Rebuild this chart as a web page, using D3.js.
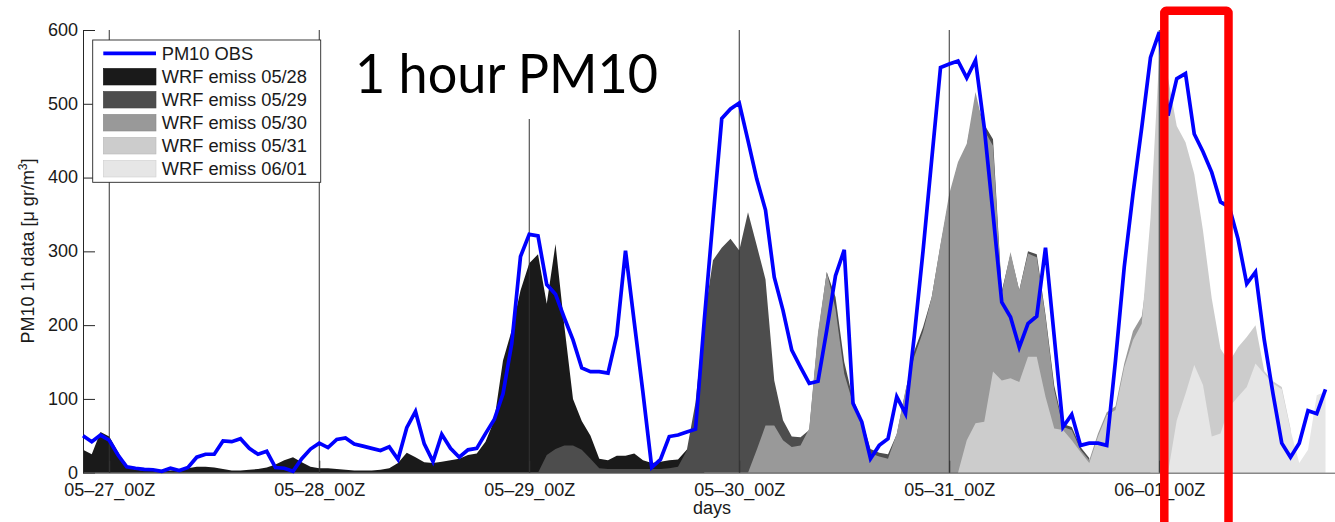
<!DOCTYPE html>
<html>
<head>
<meta charset="utf-8">
<script src="https://cdn.jsdelivr.net/npm/d3@7"></script>
<style>
  html, body { margin: 0; padding: 0; background: #fff; }
  svg { display: block; }
</style>
</head>
<body>
<svg id="chart" width="1335" height="522"></svg>
<script>
// hours counted from 05-27_00Z, one value per hour
const obsStart = -3;
const obs = [
  50, 42, 51, 44, 24, 8, 6, 4.5, 4, 2, 6, 3, 7, 21, 25, 25, 43, 42, 46, 33,
  25, 29, 7, 6, 2, 19, 32, 40, 34, 45, 47, 39, 36, 33, 30, 35, 18, 61, 83, 39,
  15, 52, 33, 21, 31, 33, 53, 72, 107, 175, 293, 323, 321, 255, 242, 210, 180, 142, 137, 137,
  135, 186, 301, 204, 108, 7, 18, 49, 51, 55, 59, 206, 344, 480, 493, 501, 450, 398, 356, 265,
  220, 166, 143, 121, 124, 193, 267, 302, 94, 69, 19, 37, 46, 103, 80, 185, 300, 425, 549, 554,
  558, 535, 559, 468, 351, 231, 211, 170, 202, 212, 305, 184, 62, 79, 37, 40, 40, 37, 152, 279,
  378, 468, 563, 597, 484, 534, 541, 459, 435, 407, 367, 360, 317, 256, 272, 180, 107, 40, 21, 40,
  84, 80, 113
];

const run0528Start = -3;
const run0528 = [
  31, 25, 55, 49, 28, 9, 4, 3, 3, 2, 3, 4, 6, 8, 8, 7, 5, 3, 3, 4,
  5, 7, 11, 17, 21, 14, 8, 6, 6, 5, 4, 3, 3, 3, 4, 6, 13, 27, 21, 14,
  13, 15, 17, 19, 24, 26, 42, 71, 152, 193, 247, 284, 296, 229, 310, 200, 100, 70, 50, 19,
  17, 23, 23, 26, 17, 13, 15, 17, 18, 31, 40, 45
];

const run0529Start = 49;
const run0529 = [
  0, 24, 32, 37, 37, 31, 19, 6, 5, 5, 5, 5, 5, 5, 5, 6, 8, 30, 95, 210,
  288, 305, 317, 301, 353, 308, 262, 125, 71, 49, 48, 58, 186, 272, 238, 150, 100, 72, 32, 27,
  25, 52, 110, 165, 197, 238, 308, 372, 418, 443, 505, 472, 452, 246, 296, 247, 300, 296, 214, 118,
  66, 62, 35, 20
];

const run0530Start = 73;
const run0530 = [
  0, 31, 64, 64, 44, 35, 37, 60, 190, 272, 222, 134, 94, 67, 26, 22, 19, 53, 112, 157,
  191, 238, 310, 378, 421, 446, 516, 464, 443, 243, 299, 247, 297, 292, 211, 112, 62, 58, 31, 17,
  53, 82, 90, 148, 192, 212, 300
];

const run0531Start = 97;
const run0531 = [
  0, 44, 67, 69, 137, 125, 128, 123, 157, 157, 103, 60, 58, 44, 28, 13, 49, 78, 85, 143,
  180, 202, 345, 565, 535, 470, 448, 405, 328, 236, 168, 150, 170, 184, 200, 138, 124, 116, 60
];

const run0601Start = 121;
const run0601 = [
  0, 71, 107, 146, 119, 49, 53, 89, 103, 116, 148, 134, 121, 113, 58, 13, 31, 105, 110
];

const dayTicks = [0, 24, 48, 72, 96, 120];
const dayLabels = ['05–27_00Z', '05–28_00Z', '05–29_00Z', '05–30_00Z', '05–31_00Z', '06–01_00Z'];
const yTicks = [0, 100, 200, 300, 400, 500, 600];

const runs = [
  { label: 'WRF emiss 05/28', start: run0528Start, values: run0528, color: '#1a1a1a' },
  { label: 'WRF emiss 05/29', start: run0529Start, values: run0529, color: '#4d4d4d' },
  { label: 'WRF emiss 05/30', start: run0530Start, values: run0530, color: '#999999' },
  { label: 'WRF emiss 05/31', start: run0531Start, values: run0531, color: '#cccccc' },
  { label: 'WRF emiss 06/01', start: run0601Start, values: run0601, color: '#e6e6e6' }
];

const FONT = '"Liberation Sans", Arial, Helvetica, sans-serif';

const x = d3.scaleLinear().domain([-3, 141]).range([83, 83 + 144 * 8.75]);
const y = d3.scaleLinear().domain([0, 600]).range([472.7, 30]);

const svg = d3.select('#chart');

const toPts = (start, values) => values.map((v, i) => ({ h: start + i, v }));

// Model runs, later runs drawn on top
const area = d3.area().x(d => x(d.h)).y0(y(0)).y1(d => y(d.v));
runs.forEach(r => {
  svg.append('path')
    .datum(toPts(r.start, r.values))
    .attr('d', area)
    .attr('fill', r.color)
    .attr('stroke', 'none');
});

// Day marker lines
svg.append('g')
  .selectAll('line')
  .data(dayTicks)
  .join('line')
  .attr('x1', d => x(d)).attr('x2', d => x(d))
  .attr('y1', y(600)).attr('y2', y(0))
  .attr('stroke', '#333').attr('stroke-width', 1);

// Axes
svg.append('g')
  .attr('transform', `translate(${x(-3)},0)`)
  .call(d3.axisLeft(y).tickValues(yTicks).tickSize(-12).tickSizeOuter(0).tickPadding(5))
  .call(ax => ax.select('.domain').attr('stroke', '#262626'))
  .call(ax => ax.selectAll('line').attr('stroke', '#262626'))
  .call(ax => ax.selectAll('text').attr('fill', '#1a1a1a').attr('font-size', 18).attr('font-family', FONT)
    .attr('dy', '0.3em'));

svg.append('g')
  .attr('transform', `translate(0,${y(0)})`)
  .call(d3.axisBottom(x).tickValues(dayTicks).tickFormat((d, i) => dayLabels[i])
    .tickSize(-12).tickSizeOuter(0).tickPadding(10.5))
  .call(ax => ax.select('.domain').attr('stroke', '#555'))
  .call(ax => ax.selectAll('line').attr('stroke', '#333'))
  .call(ax => ax.selectAll('text').attr('fill', '#1a1a1a').attr('font-size', 18).attr('font-family', FONT));

// Axis labels
svg.append('text')
  .attr('x', 712).attr('y', 514)
  .attr('text-anchor', 'middle').attr('font-size', 18).attr('font-family', FONT).attr('fill', '#1a1a1a')
  .text('days');

const yl = svg.append('text')
  .attr('transform', 'rotate(-90)')
  .attr('x', -251).attr('y', 33.5)
  .attr('text-anchor', 'middle').attr('font-size', 18).attr('font-family', FONT).attr('fill', '#1a1a1a');
yl.append('tspan').text('PM10 1h data [μ gr/m');
yl.append('tspan').attr('font-size', 12).attr('dy', -7).text('3');
yl.append('tspan').attr('dy', 7).text(']');

// Observations
const line = d3.line().x(d => x(d.h)).y(d => y(d.v));
svg.append('path')
  .datum(toPts(obsStart, obs))
  .attr('d', line)
  .attr('fill', 'none')
  .attr('stroke', '#0000ff')
  .attr('stroke-width', 3.7)
  .attr('stroke-linejoin', 'miter');

// Title on a white box
svg.append('rect')
  .attr('x', 345).attr('y', 20).attr('width', 325).attr('height', 99)
  .attr('fill', '#fff');
svg.append('text')
  .attr('x', 355).attr('y', 92.7)
  .attr('font-size', 54).attr('font-family', 'Lato, "Open Sans", sans-serif').attr('fill', '#000')
  .attr('textLength', 303).attr('lengthAdjust', 'spacingAndGlyphs')
  .text('1 hour PM10');

// Legend
const lg = svg.append('g');
lg.append('rect')
  .attr('x', 92.7).attr('y', 40).attr('width', 228).attr('height', 142.3)
  .attr('fill', '#fff').attr('stroke', '#262626').attr('stroke-width', 0.9);
lg.append('line')
  .attr('x1', 103.3).attr('x2', 156).attr('y1', 53.3).attr('y2', 53.3)
  .attr('stroke', '#0000ff').attr('stroke-width', 3.7);
lg.append('text')
  .attr('x', 161.7).attr('y', 53.3).attr('dy', '0.36em')
  .attr('font-size', 18.3).attr('font-family', FONT).attr('fill', '#1a1a1a')
  .text('PM10 OBS');
runs.forEach((r, i) => {
  const cy = 76.7 + i * 23;
  lg.append('rect')
    .attr('x', 103.3).attr('y', cy - 8.3).attr('width', 52.7).attr('height', 16.6)
    .attr('fill', r.color).attr('stroke', d3.color(r.color).darker(0.3)).attr('stroke-width', 0.6);
  lg.append('text')
    .attr('x', 161.7).attr('y', cy).attr('dy', '0.36em')
    .attr('font-size', 18.3).attr('font-family', FONT).attr('fill', '#1a1a1a')
    .text(r.label);
});

// Red highlight frame
svg.append('rect')
  .attr('x', 1164.3).attr('y', 10.8).attr('width', 64.2).attr('height', 530)
  .attr('rx', 2)
  .attr('fill', 'none').attr('stroke', '#ff0000').attr('stroke-width', 8.5);
</script>
</body>
</html>
